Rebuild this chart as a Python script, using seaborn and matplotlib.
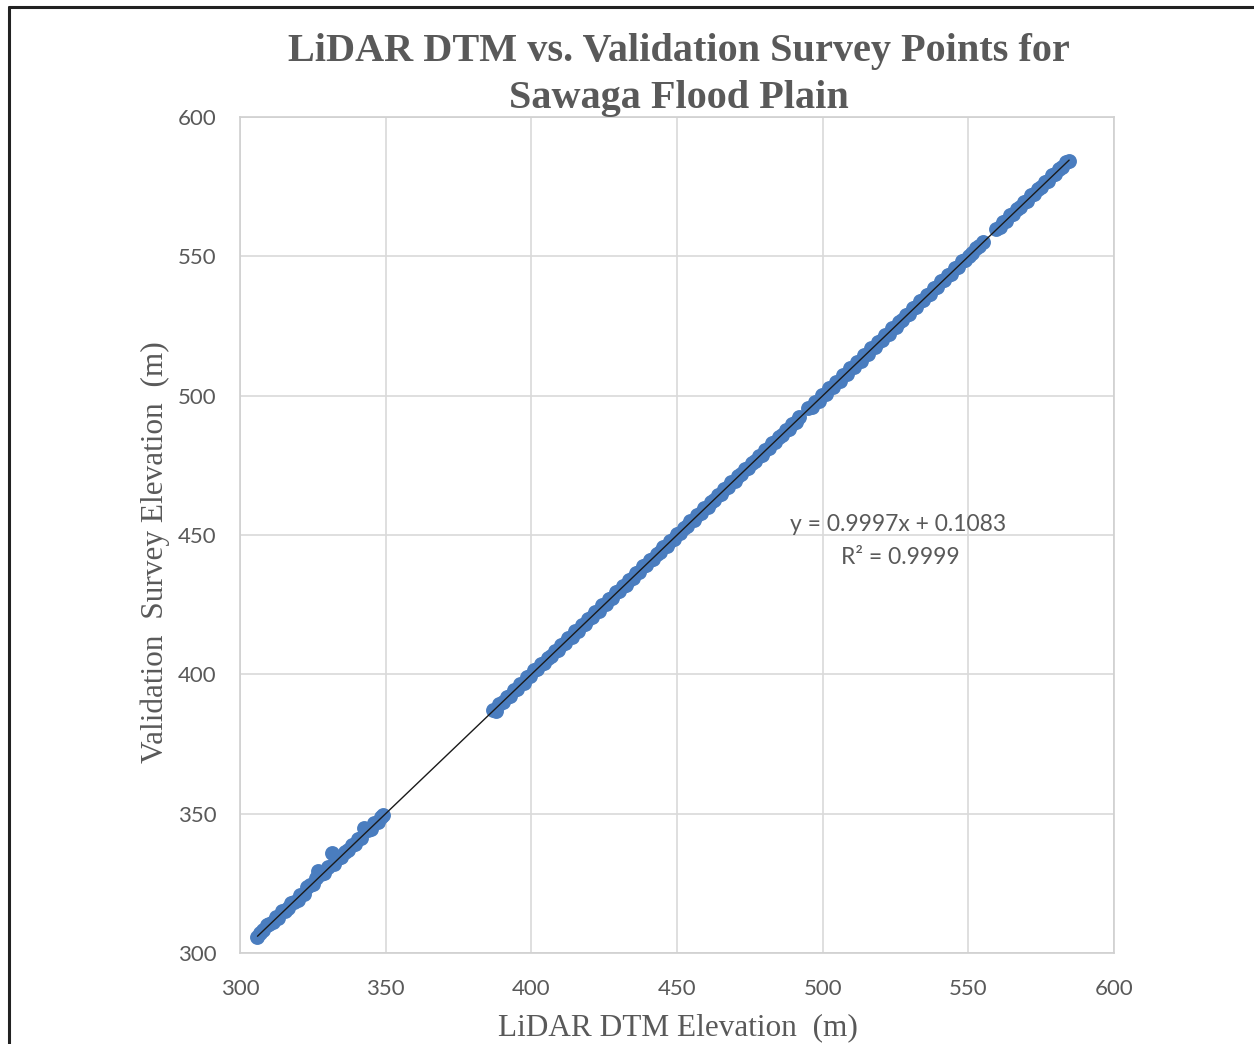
import numpy as np
import pandas as pd
import matplotlib
matplotlib.use("Agg")
import matplotlib.pyplot as plt
from matplotlib.lines import Line2D
import seaborn as sns

# ---------------- data ----------------
lidar_seg1 = [306.0, 306.8, 307.9, 309.1, 310.0, 311.2, 312.3, 313.1, 314.4, 315.5,
              316.6, 317.4, 318.7, 319.8, 320.6, 321.9, 323.0, 324.1, 325.2, 326.0,
              326.8, 327.9, 329.0, 330.2, 331.5, 332.4, 333.6, 334.8, 335.9, 337.1,
              338.3, 339.4, 340.5, 341.6, 342.6, 343.8, 344.9, 346.0, 347.2, 348.3,
              349.1]
survey_seg1 = [305.6, 307.2, 308.1, 309.9, 310.3, 311.0, 312.9, 312.6, 314.9, 315.1,
               316.2, 317.9, 318.2, 319.1, 320.9, 321.3, 323.6, 324.5, 324.8, 326.9,
               329.6, 328.3, 328.7, 330.9, 335.8, 332.0, 334.2, 334.5, 336.4, 336.8,
               338.9, 339.0, 340.9, 341.3, 345.0, 344.3, 344.6, 346.5, 347.0, 348.8,
               349.4]

lidar_seg2 = [387.0, 387.8, 389.0, 390.3, 391.5, 392.6, 393.9, 395.0, 396.2, 397.4,
              398.6, 399.7, 400.9, 402.1, 403.2, 404.5, 405.6, 406.8, 408.0, 409.1,
              410.3, 411.5, 412.6, 413.8, 415.0, 416.1, 417.3, 418.5, 419.6, 420.8,
              422.0, 423.1, 424.3, 425.5, 426.6, 427.8, 429.0, 430.1, 431.3, 432.5,
              433.6, 434.8, 436.0, 437.1, 438.3, 439.5, 440.6, 441.8, 443.0, 444.1,
              445.3, 446.5, 447.6, 448.8, 450.0, 451.1, 452.3, 453.5, 454.6, 455.8,
              457.0, 458.1, 459.3, 460.5, 461.6, 462.8, 464.0, 465.1, 466.3, 467.5,
              468.6, 469.8, 471.0, 472.1, 473.3, 474.5, 475.6, 476.8, 478.0, 479.1,
              480.3, 481.5, 482.6, 483.8, 485.0, 486.1, 487.3, 488.5, 489.6, 490.8,
              492.0]
survey_seg2 = [387.3, 386.9, 389.5, 390.0, 391.9, 392.2, 394.4, 394.7, 396.6, 397.0,
               398.9, 399.3, 401.4, 401.8, 403.6, 404.1, 406.0, 406.4, 408.5, 408.8,
               410.7, 411.1, 413.1, 413.4, 415.5, 415.7, 417.8, 418.1, 420.0, 420.5,
               422.4, 422.7, 424.8, 425.1, 427.1, 427.4, 429.5, 429.8, 431.7, 432.1,
               434.0, 434.5, 436.4, 436.8, 438.7, 439.1, 441.0, 441.5, 443.3, 443.8,
               445.6, 446.2, 447.9, 448.5, 450.3, 450.8, 452.6, 453.2, 454.9, 455.5,
               457.3, 457.8, 459.6, 460.2, 461.9, 462.5, 464.4, 464.8, 466.6, 467.2,
               468.9, 469.5, 471.3, 471.8, 473.6, 474.2, 475.9, 476.5, 478.3, 478.8,
               480.6, 481.2, 482.9, 483.5, 485.3, 485.8, 487.6, 488.2, 489.9, 490.5,
               492.2]

lidar_seg3 = [495.0, 496.2, 497.4, 498.6, 499.8, 501.0, 502.2, 503.4, 504.6, 505.8,
              507.0, 508.2, 509.4, 510.6, 511.8, 513.0, 514.2, 515.4, 516.6, 517.8,
              519.0, 520.2, 521.4, 522.6, 523.8, 525.0, 526.2, 527.4, 528.6, 529.8,
              531.0, 532.2, 533.4, 534.6, 535.8, 537.0, 538.2, 539.4, 540.6, 541.8,
              543.0, 544.2, 545.4, 546.6, 547.8, 549.0, 550.2, 551.4, 552.6, 553.8,
              555.0]
survey_seg3 = [495.4, 495.9, 497.8, 498.2, 500.2, 500.6, 502.6, 503.0, 505.0, 505.4,
               507.4, 507.8, 509.8, 510.2, 512.2, 512.6, 514.6, 515.0, 517.0, 517.4,
               519.4, 519.8, 521.8, 522.2, 524.2, 524.6, 526.6, 527.0, 529.0, 529.4,
               531.4, 531.8, 533.8, 534.2, 536.2, 536.6, 538.6, 539.0, 541.0, 541.4,
               543.4, 543.8, 545.8, 546.2, 548.2, 548.6, 550.1, 551.2, 552.9, 553.6,
               555.3]

lidar_seg4 = [559.5, 560.7, 561.9, 563.1, 564.3, 565.5, 566.7, 567.9, 569.1, 570.3,
              571.5, 572.7, 573.9, 575.1, 576.3, 577.5, 578.7, 579.9, 581.1, 582.3,
              583.5, 584.6]
survey_seg4 = [559.9, 560.4, 562.3, 562.8, 564.7, 565.2, 567.1, 567.6, 569.5, 570.0,
               571.9, 572.4, 574.3, 574.8, 576.7, 577.2, 579.1, 579.6, 581.5, 582.0,
               583.8, 584.3]

trend_slope = 0.9997
trend_intercept = 0.1083
r_squared = 0.9999

axis_ticks = [300, 350, 400, 450, 500, 550, 600]

title_line1 = "LiDAR DTM vs. Validation Survey Points for"
title_line2 = "Sawaga Flood Plain"
xlabel_text = "LiDAR DTM Elevation  (m)"
ylabel_text = "Validation  Survey Elevation  (m)"

lidar = lidar_seg1 + lidar_seg2 + lidar_seg3 + lidar_seg4
survey = survey_seg1 + survey_seg2 + survey_seg3 + survey_seg4
assert len(lidar) == len(survey)
df = pd.DataFrame({"lidar": lidar, "survey": survey})

# ---------------- styling ----------------
sns.set_theme(style="whitegrid")
plt.rcParams["font.family"] = ["Lato", "DejaVu Sans"]

W, H = 1254, 1044
fig = plt.figure(figsize=(W / 100, H / 100), dpi=100)
fig.patch.set_facecolor("white")
ax = fig.add_axes([240 / W, 1 - 953 / H, (1114 - 240) / W, (953 - 117) / H])
ax.set_facecolor("white")

gray_text = "#595959"
blue = "#4a7dbf"

sns.scatterplot(data=df, x="lidar", y="survey", ax=ax, color=blue,
                s=115, edgecolor=blue, linewidth=0, zorder=3, legend=False)

xs = np.array([min(lidar), max(lidar)])
ax.plot(xs, trend_slope * xs + trend_intercept, color="#1a1a1a", lw=1.0, zorder=4)

ax.set_xlim(axis_ticks[0], axis_ticks[-1])
ax.set_ylim(axis_ticks[0], axis_ticks[-1])
ax.set_xticks(axis_ticks)
ax.set_yticks(axis_ticks)
ax.grid(True, color="#d9d9d9", lw=1.2)
for sp in ax.spines.values():
    sp.set_color("#d0d0d0")
    sp.set_linewidth(1.2)
ax.tick_params(axis="both", length=0, labelsize=16, labelcolor=gray_text)
ax.tick_params(axis="x", pad=19)
ax.tick_params(axis="y", pad=17)
ax.set_xlabel("")
ax.set_ylabel("")

ax.text(525.9, 453.9, f"y = {trend_slope}x + {trend_intercept}", ha="center",
        va="center", fontsize=16.5, color=gray_text, family=["Lato", "DejaVu Sans"])
ax.text(526.5, 442.1, f"R\u00b2 = {r_squared}", ha="center", va="center",
        fontsize=16.5, color=gray_text, family=["Lato", "DejaVu Sans"])

serif = ["Liberation Serif", "DejaVu Serif"]
fig.text(679 / W, 1 - 47 / H, title_line1, ha="center", va="center_baseline",
         fontsize=29, fontweight="bold", color=gray_text, family=serif)
fig.text(679 / W, 1 - 94 / H, title_line2, ha="center", va="center_baseline",
         fontsize=29, fontweight="bold", color=gray_text, family=serif)
fig.text(678 / W, 1 - 1028 / H, xlabel_text, ha="center", va="center",
         fontsize=22.5, color=gray_text, family=serif)
fig.text(155 / W, 1 - 552 / H, ylabel_text, ha="center", va="center",
         rotation=90, fontsize=22.5, color=gray_text, family=serif)

# outer frame (top and left edges visible in the reference)
fig.add_artist(Line2D([9 / W, 1.0], [1 - 7 / H, 1 - 7 / H], transform=fig.transFigure,
                      color="#222222", lw=2.2))
fig.add_artist(Line2D([9 / W, 9 / W], [0.0, 1 - 7 / H], transform=fig.transFigure,
                      color="#222222", lw=2.2))

fig.savefig("out.png", dpi=100, facecolor="white")
